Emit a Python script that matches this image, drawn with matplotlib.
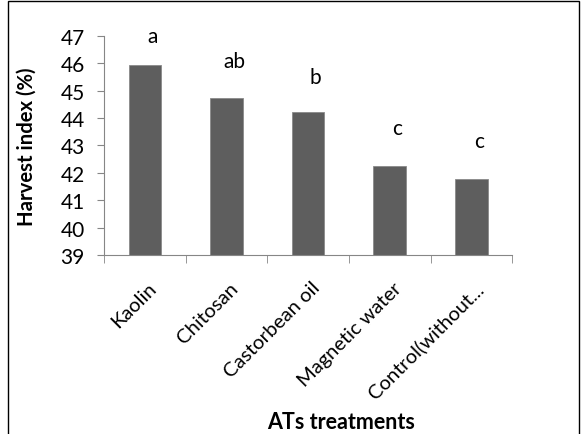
import numpy as np
import matplotlib.pyplot as plt
import matplotlib.transforms as mtransforms
from matplotlib.patches import Rectangle

plt.rcParams['font.family'] = ['Lato', 'DejaVu Sans']

treatments = ['Kaolin', 'Chitosan', 'Castorbean oil', 'Magnetic water', 'Control(without...']
harvest_index = [45.95, 44.73, 44.24, 42.24, 41.76]
letters = ['a', 'ab', 'b', 'c', 'c']
letter_y = [47.0, 46.1, 45.5, 43.65, 43.15]

fig = plt.figure(figsize=(5.82, 4.35), dpi=100)
ax = fig.add_axes([0.179, 0.4115, 0.701, 0.5035])

x = np.arange(len(treatments))
ax.bar(x, harvest_index, width=0.4, color='#5e5e5e', edgecolor='#8a8a8a', linewidth=0.6, zorder=2)

for xi, lab, ly in zip(x, letters, letter_y):
    ax.text(xi + 0.09, ly, lab, ha='center', va='center', fontsize=15, color='black')

ax.set_ylim(39, 47)
ax.set_xlim(-0.5, len(treatments) - 0.5)
ax.set_yticks(range(39, 48))
ax.tick_params(axis='y', labelsize=15, length=5, color='#868686', pad=9)

ax.set_xticks(x)
ax.set_xticklabels(treatments, rotation=45, ha='right', rotation_mode='anchor', fontsize=14.5)
ax.tick_params(axis='x', which='major', length=0, pad=17)
ax.set_xticks(np.arange(-0.5, len(treatments)), minor=True)
ax.tick_params(axis='x', which='minor', length=6, color='#868686')
shift = mtransforms.ScaledTranslation(3 / 100, 0, fig.dpi_scale_trans)
for lbl in ax.get_xticklabels():
    lbl.set_transform(lbl.get_transform() + shift)

for s in ['top', 'right']:
    ax.spines[s].set_visible(False)
for s in ['left', 'bottom']:
    ax.spines[s].set_color('#868686')
    ax.spines[s].set_linewidth(0.8)

fig.text(27 / 582, 1 - 146.5 / 435, 'Harvest index (%)', rotation=90, ha='center', va='center',
         fontsize=14.6, fontweight='bold')
fig.text(341 / 582, 1 - 423 / 435, 'ATs treatments', ha='center', va='center', fontsize=15.5, fontweight='bold')

fig.patches.append(Rectangle((8 / 582, -0.01), 571 / 582, 1.01 - 1.5 / 435, transform=fig.transFigure,
                             fill=False, edgecolor='black', linewidth=1))

fig.savefig('out.png', dpi=100)
